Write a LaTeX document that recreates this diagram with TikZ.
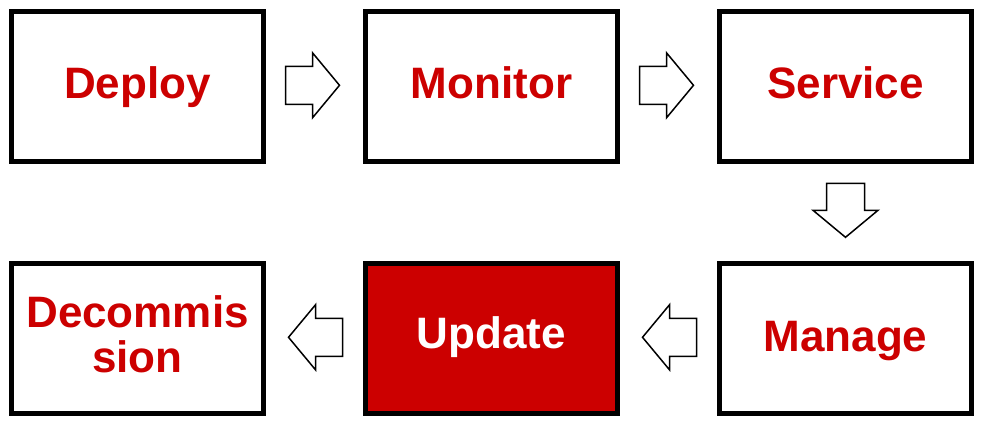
\documentclass[tikz,border=0pt]{standalone}
\usepackage{fontspec}
\setmainfont{Liberation Sans}
\usetikzlibrary{calc}
\definecolor{boxred}{HTML}{CC0000}
\tikzset{
  x=1pt,y=-1pt,
  stagebox/.style={draw=black, line width=4.6pt, fill=white, minimum width=252pt, minimum height=150pt,
    inner sep=0pt, align=center, text=boxred, text height=36pt, text depth=12pt,
    font=\bfseries\fontsize{44}{45}\selectfont},
  hotbox/.style={stagebox, fill=boxred, text=white, text height=34pt, text depth=14pt},
  pics/blockarrow/.style={code={
    \draw[line width=1.5pt, line join=miter, fill=white] (-27,-19) -- (0,-19) -- (0,-32.5) -- (27,0) -- (0,32.5) -- (0,19) -- (-27,19) -- cycle;
  }}
}
\begin{document}
\begin{tikzpicture}
\useasboundingbox (0,0) rectangle (986,427);
\node[stagebox] (deploy) at (137.5,86.3) {Deploy};
\node[stagebox] (monitor) at (491.5,86.3) {Monitor};
\node[stagebox] (service) at (845.5,86.3) {Service};
\node[stagebox, text height=, text depth=7.5pt] (decom) at (137.5,338.3) {Decommis\\sion};
\node[hotbox] (update) at (491.5,338.3) {Update};
\node[stagebox, text height=37.4pt, text depth=10.6pt] (manage) at (845.5,338.3) {Manage};
\coordinate (a1) at ($(deploy.east)!0.5!(monitor.west)+(-2,-1)$);
\coordinate (a2) at ($(monitor.east)!0.5!(service.west)+(-2,-1)$);
\coordinate (a3) at ($(service.south)!0.5!(manage.north)+(0,-2)$);
\coordinate (a4) at ($(manage.west)!0.5!(update.east)+(1,-1)$);
\coordinate (a5) at ($(update.west)!0.5!(decom.east)+(1,-1)$);
\pic at (a1) {blockarrow};
\pic at (a2) {blockarrow};
\pic[rotate=-90] at (a3) {blockarrow};
\pic[rotate=180] at (a4) {blockarrow};
\pic[rotate=180] at (a5) {blockarrow};
\end{tikzpicture}
\end{document}
